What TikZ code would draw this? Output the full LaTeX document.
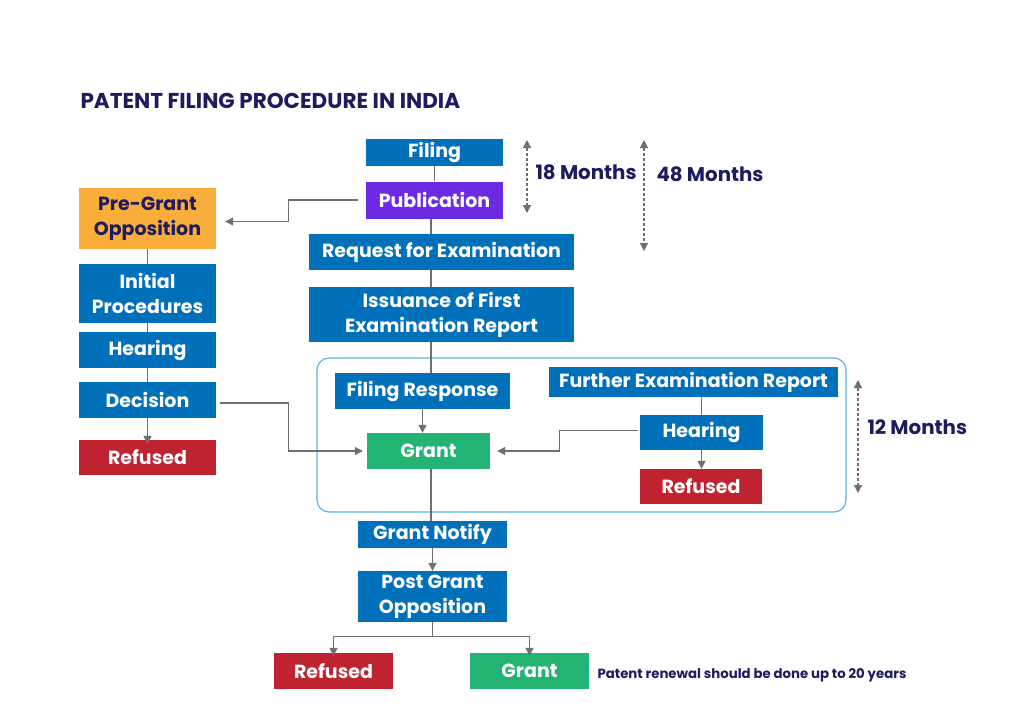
\documentclass[tikz,border=0pt]{standalone}
\usepackage{fontspec}
\setmainfont{Poppins}
\usetikzlibrary{arrows.meta}

\definecolor{boxblue}{RGB}{0,112,186}
\definecolor{boxpurple}{RGB}{108,43,226}
\definecolor{boxorange}{RGB}{249,173,58}
\definecolor{boxred}{RGB}{191,35,48}
\definecolor{boxgreen}{RGB}{35,180,115}
\definecolor{navy}{RGB}{30,27,94}
\definecolor{linegray}{RGB}{110,110,115}
\definecolor{framecyan}{RGB}{85,181,230}

\tikzset{
  stage/.style={fill=boxblue, text=white, inner sep=0pt, align=center,
    font=\fontsize{19}{25}\selectfont\bfseries},
  link/.style={draw=linegray, line width=1.2pt},
  flow/.style={link, -{Triangle[length=8pt, width=8pt]}},
  span/.style={draw=linegray, line width=1.2pt, dash pattern=on 3pt off 2pt,
    {Triangle[length=8pt, width=8pt]}-{Triangle[length=8pt, width=8pt]}},
  months/.style={text=navy, font=\fontsize{19.8}{22}\selectfont\bfseries, anchor=west}
}

\begin{document}
\begin{tikzpicture}[x=1pt, y=-1pt]
  \useasboundingbox[fill=white] (0,0) rectangle (1024,724);

  \node[text=navy, anchor=west, font=\fontsize{21.5}{24}\selectfont\bfseries] (title) at (77,101) {PATENT FILING PROCEDURE IN INDIA};

  % main column
  \node[stage, minimum width=137pt, minimum height=27pt] (file) at (434.5,152) {Filing};
  \node[stage, fill=boxpurple, minimum width=137pt, minimum height=37pt] (pub) at (434.5,200) {Publication};
  \node[stage, minimum width=265pt, minimum height=36pt] (req) at (441.5,252) {Request for Examination};
  \node[stage, minimum width=265pt, minimum height=55pt] (fer) at (441.5,314.5) {Issuance of First\\Examination Report};

  % pre-grant column
  \node[stage, fill=boxorange, text=navy, minimum width=137pt, minimum height=61pt] (pre) at (147.5,218.5) {Pre-Grant\\Opposition};
  \node[stage, minimum width=137pt, minimum height=59pt] (init) at (147.5,293.5) {Initial\\Procedures};
  \node[stage, minimum width=137pt, minimum height=36pt] (lhear) at (147.5,350) {Hearing};
  \node[stage, minimum width=137pt, minimum height=36pt] (dec) at (147.5,400) {Decision};
  \node[stage, fill=boxred, minimum width=137pt, minimum height=35pt] (lref) at (147.5,457.5) {Refused};

  % examination frame
  \draw[framecyan, line width=1.2pt, rounded corners=12pt] (317,358) rectangle (846,512);
  \node[stage, minimum width=175pt, minimum height=36pt] (resp) at (422.5,391) {Filing Response};
  \node[stage, fill=boxgreen, minimum width=123pt, minimum height=36pt] (grant) at (428.5,451) {Grant};
  \node[stage, minimum width=289pt, minimum height=30pt] (further) at (693.5,382) {Further Examination Report};
  \node[stage, minimum width=123pt, minimum height=35pt] (rhear) at (701.5,432.5) {Hearing};
  \node[stage, fill=boxred, minimum width=122pt, minimum height=35pt] (rref) at (701,486.5) {Refused};

  % after grant
  \node[stage, minimum width=149pt, minimum height=27pt] (notify) at (432.5,534.5) {Grant Notify};
  \node[stage, minimum width=149pt, minimum height=51pt] (post) at (432.5,596.5) {Post Grant\\Opposition};
  \node[stage, fill=boxred, minimum width=119pt, minimum height=36pt] (bref) at (333.5,671) {Refused};
  \node[stage, fill=boxgreen, minimum width=119pt, minimum height=36pt] (bgrant) at (529.5,671) {Grant};
  \node[text=navy, anchor=west, font=\fontsize{13.3}{15}\selectfont\bfseries] (renew) at (594,675) {Patent renewal should be done up to 20 years};

  % time spans
  \coordinate (s18a) at (527,140);
  \coordinate (s18b) at (527,213);
  \coordinate (s48a) at (644,140);
  \coordinate (s48b) at (644,251);
  \coordinate (s12a) at (858,380);
  \coordinate (s12b) at (858,493);
  \draw[span] (s18a) -- (s18b);
  \draw[span] (s48a) -- (s48b);
  \draw[span] (s12a) -- (s12b);
  \node[months] (m18) at (532,172) {18 Months};
  \node[months] (m48) at (653,174) {48 Months};
  \node[months] (m12) at (864,427) {12 Months};

  % connectors
  \coordinate (spine) at (431,0);
  \draw[link] (file) -- (pub);
  \draw[link] (pub.south -| spine) -- (req.north -| spine);
  \draw[link] (req.south -| spine) -- (fer.north -| spine);
  \draw[link] (fer.south -| spine) -- (resp.north -| spine);
  \draw[flow] (resp) -- (resp |- grant.north);
  \draw[flow] ([xshift=-8pt]pub.west) -- ++(-69,0) |- ([xshift=9pt, yshift=-3pt]pre.east);

  \draw[link] (pre) -- (init);
  \draw[link] (init) -- (lhear);
  \draw[link] (lhear) -- (dec);
  \draw[flow] (dec.south) -- ([yshift=-4pt]lref.north);
  \draw[flow] ([xshift=4pt, yshift=-3pt]dec.east) -| ++(68,0) |- ([xshift=-4pt]grant.west);

  \draw[link] (further.south -| rhear) -- (rhear);
  \draw[flow] (rhear) -- (rhear |- rref.north);
  \draw[flow] ([xshift=-2pt, yshift=2pt]rhear.west) -- ++(-78,0) |- ([xshift=7pt]grant.east);

  \draw[link] (grant.south -| spine) -- (notify.north -| spine);
  \draw[flow] (notify) -- (post);
  \draw[link] (post.south) -- ++(0,14) coordinate (fork);
  \draw[flow] (fork) -| ([yshift=-3pt]bref.north);
  \draw[flow] (fork) -| ([yshift=-3pt]bgrant.north);
\end{tikzpicture}
\end{document}
